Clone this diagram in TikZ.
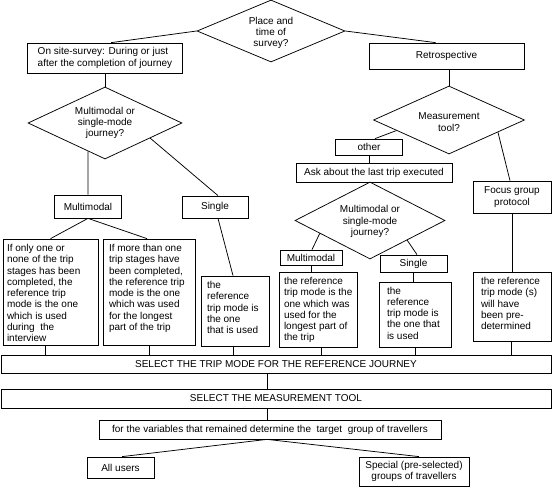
\documentclass[tikz,border=0pt]{standalone}
\usepackage{fontspec}
\setmainfont{Liberation Sans}
\usetikzlibrary{shapes.geometric,calc}
\tikzset{
  txt/.style={font=\fontsize{10}{11.25}\selectfont},
  box/.style={draw, rectangle, inner sep=0pt, txt, align=center},
  dia/.style={draw, diamond, inner sep=0pt},
  dlab/.style={txt, align=center, inner sep=0pt},
  tlab/.style={txt, align=left, inner sep=0pt, anchor=north west},
  tl/.style n args={3}{label={[tlab,xshift=#1pt,yshift=-#2pt]north west:{#3}}},
  conn/.style={draw, line width=0.75pt},
}
\begin{document}
\begin{tikzpicture}[x=1pt,y=-1pt,line width=0.75pt]
\useasboundingbox (0,0) rectangle (552,487);

% top level
\node[dia, minimum width=148pt, minimum height=62pt,
      label={[dlab,yshift=-2pt]center:Place and\\time of\\survey?}] (d0) at (271,31) {};
\node[box, align=left, minimum width=155pt, minimum height=30pt] (s1) at (105,58)
  {On site-survey: During or just\\after the completion of journey};
\node[box, minimum width=155pt, minimum height=26pt] (retro) at (446.5,56) {Retrospective};

% left branch
\node[dia, minimum width=154pt, minimum height=72pt,
      label={[dlab]center:Multimodal or\\single-mode\\journey?}] (d1) at (105,123) {};
\node[box, minimum width=67pt, minimum height=23pt] (mm1) at (88,206.5) {Multimodal};
\node[box, minimum width=66pt, minimum height=22pt] (sg1) at (215,207) {Single};
\node[box, minimum width=95pt, minimum height=106pt,
      tl={4}{5.5}{If only one or\\none of the trip\\stages has been\\completed, the\\reference trip\\mode is the one\\which is used\\during \ the\\interview}] (L1) at (50.5,292) {};
\node[box, minimum width=92pt, minimum height=106pt,
      tl={6}{5.5}{If more than one\\trip stages have\\been completed,\\the reference trip\\mode is the one\\which was used\\for the longest\\part of the trip}] (L2) at (149,292) {};
\node[box, minimum width=68pt, minimum height=70pt,
      tl={6}{5.5}{the\\reference\\trip mode is\\the one\\that is used}] (sgc1) at (235,311) {};

% right branch
\node[dia, minimum width=151pt, minimum height=68pt,
      label={[dlab,yshift=-2pt]center:Measurement\\tool?}] (d2) at (449,120) {};
\node[box, minimum width=67pt, minimum height=16pt] (other) at (369,147) {other};
\node[box, minimum width=156pt, minimum height=19pt] (ask) at (374,172.5) {Ask about the last trip executed};
\node[box, minimum width=78pt, minimum height=32pt] (focus) at (512,197) {Focus group\\protocol};
\node[dia, minimum width=150pt, minimum height=77pt,
      label={[dlab,yshift=-1pt]center:Multimodal or\\single-mode\\journey?}] (d3) at (370,220.5) {};
\node[box, minimum width=62pt, minimum height=15pt] (mm2) at (311,257.5) {Multimodal};
\node[box, minimum width=67pt, minimum height=17pt] (sg2) at (413.5,263.5) {Single};
\node[box, minimum width=78pt, minimum height=75pt,
      tl={5}{5.5}{the reference\\trip mode is the\\one which was\\used for the\\longest part of\\the trip}] (R1) at (318,309.5) {};
\node[box, minimum width=72pt, minimum height=65pt,
      tl={8}{5}{the\\reference\\trip mode is\\the one that\\is used}] (R2) at (415,314.5) {};
\node[box, minimum width=78pt, minimum height=69pt,
      tl={8}{5.5}{the reference\\trip mode (s)\\will have\\been pre-\\determined}] (R3) at (512,306.5) {};

% bottom
\node[box, minimum width=550pt, minimum height=18pt] (sel) at (276,364) {SELECT THE TRIP MODE FOR THE REFERENCE JOURNEY};
\node[box, minimum width=550pt, minimum height=19pt] (meas) at (276,398.5) {SELECT THE MEASUREMENT TOOL};
\node[box, minimum width=342pt, minimum height=19pt] (fv) at (270,429.5) {for the variables that remained determine the \ target \ group of travellers};
\node[box, minimum width=67pt, minimum height=21pt] (all) at (120.5,467.5) {All users};
\node[box, minimum width=110pt, minimum height=29pt] (spec) at (414,471.5) {Special (pre-selected)\\ groups of travellers};

% connectors
\draw (d0.west) -- ($(s1.north west)!0.54!(s1.north east)$);
\draw (d0.east) -- ($(retro.north west)!0.43!(retro.north east)$);
\draw (s1.south) -- (d1.north);
\draw ($(d1.west)!0.78!(d1.south)$) -- (mm1.north);
\draw ($(d1.south)!0.584!(d1.east)$) -- ($(sg1.north)+(3,0)$);
\draw ($(sg1.south)+(3,0)$) -- ($(sgc1.north)+(-2,0)$);
\draw (mm1.south) -- (L1.north);
\draw (mm1.south) -- ($(L2.north)+(-2,0)$);

\draw (d2.north |- retro.south) -- (d2.north);
\draw ($(d2.west)!0.307!(d2.south)$) -- ($(other.north)+(6,0)$);
\draw (other.south) -- (other.south |- ask.north);
\draw (ask.south -| d3.north) -- (d3.north);
\draw ($(d2.south)!0.645!(d2.east)$) -- ($(focus.north)+(-2,0)$);
\draw ($(d3.west)!0.333!(d3.south)$) -- ($(mm2.north)+(1,0)$);
\draw ($(d3.south)!0.493!(d3.east)$) -- ($(sg2.north)+(3.5,0)$);
\draw (mm2.south) -- (mm2.south |- R1.north);
\draw (sg2.south) -- (sg2.south |- R2.north);
\draw (focus.south) -- (focus.south |- R3.north);

\coordinate (t1) at ($(L1.south)+(-5.5,0)$);
\coordinate (t2) at (L2.south);
\coordinate (t3) at ($(sgc1.south)+(-2,0)$);
\coordinate (t4) at ($(R1.south)+(3,0)$);
\coordinate (t5) at (R2.south);
\coordinate (t6) at ($(R3.south)+(-1,0)$);
\foreach \t in {t1,t2,t3,t4,t5,t6} \draw (\t) -- (\t |- sel.north);

\coordinate (m1) at ($(sel.south)+(-9,0)$);
\draw (m1) -- (m1 |- meas.north);
\coordinate (m2) at ($(meas.south)+(-9,0)$);
\draw (m2) -- (m2 |- fv.north);
\coordinate (m3) at ($(fv.south)+(-3,0)$);
\draw (m3) -- ($(all.north)+(1.5,0)$);
\draw (m3) -- ($(spec.north)+(5,0)$);
\end{tikzpicture}
\end{document}
